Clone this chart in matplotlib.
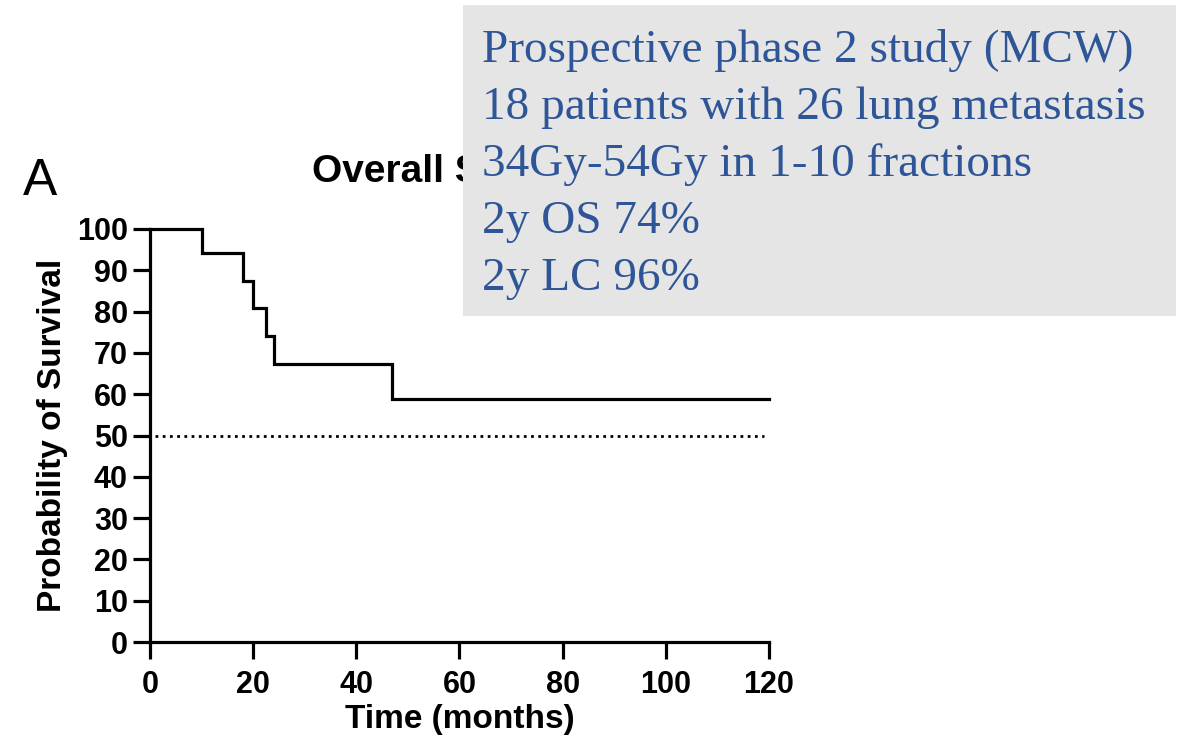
import matplotlib
matplotlib.use("Agg")
import matplotlib.pyplot as plt
from matplotlib.patches import Rectangle

# Kaplan-Meier estimate (months, % surviving)
event_times = [0, 10, 18, 20, 22.5, 24, 47, 120]
survival_pct = [100, 94.1, 87.5, 80.9, 74.1, 67.4, 58.9, 58.9]
median_line = 50

x_ticks = [0, 20, 40, 60, 80, 100, 120]
y_ticks = [0, 10, 20, 30, 40, 50, 60, 70, 80, 90, 100]

summary_lines = [
    "Prospective phase 2 study (MCW)",
    "18 patients with 26 lung metastasis",
    "34Gy-54Gy in 1-10 fractions",
    "2y OS 74%",
    "2y LC 96%",
]

W, H = 1186, 747
fig = plt.figure(figsize=(W / 100, H / 100), dpi=100)
ax = fig.add_axes([150 / W, 1 - 642 / H, (769 - 150) / W, (642 - 229) / H])

sans = ["Liberation Sans", "DejaVu Sans"]

ax.step(event_times, survival_pct, where="post", color="black", lw=2.3,
        clip_on=False, solid_joinstyle="miter")
ax.plot([1, 119], [median_line, median_line], color="black", lw=2.0,
        linestyle=(0, (1, 1.6)))

ax.set_xlim(0, 120)
ax.set_ylim(0, 100)
ax.set_xticks(x_ticks)
ax.set_yticks(y_ticks)
ax.set_xticklabels([str(t) for t in x_ticks], fontsize=22, fontweight="bold", family=sans)
ax.set_yticklabels([str(t) for t in y_ticks], fontsize=22, fontweight="bold", family=sans)
for s in ["top", "right"]:
    ax.spines[s].set_visible(False)
for s in ["left", "bottom"]:
    ax.spines[s].set_linewidth(2.3)
ax.tick_params(axis="both", direction="out", length=12, width=2.3)
ax.tick_params(axis="y", pad=4)
ax.tick_params(axis="x", pad=8)

ax.set_xlabel("Time (months)", fontsize=24, fontweight="bold", family=sans, labelpad=3)
ax.set_ylabel("Probability of Survival", fontsize=24, fontweight="bold", family=sans, labelpad=6)
ax.set_title("Overall Survival", fontsize=28, fontweight="bold", family=sans, pad=34)

fig.text(23 / W, 1 - 195 / H, "A", fontsize=37, family=sans, ha="left", va="baseline")

# Study summary panel
fig.add_artist(Rectangle((463 / W, 1 - 316 / H), (1176 - 463) / W, (316 - 5) / H,
                         transform=fig.transFigure, facecolor="#e5e5e5",
                         edgecolor="none", zorder=5))
baselines = [62, 119, 176, 233, 290]
for line, yb in zip(summary_lines, baselines):
    fig.text(482 / W, 1 - yb / H, line, fontsize=34, family=["Liberation Serif", "DejaVu Serif"],
             color="#2e5597", ha="left", va="baseline", zorder=6)

fig.savefig("out.png", dpi=100)
